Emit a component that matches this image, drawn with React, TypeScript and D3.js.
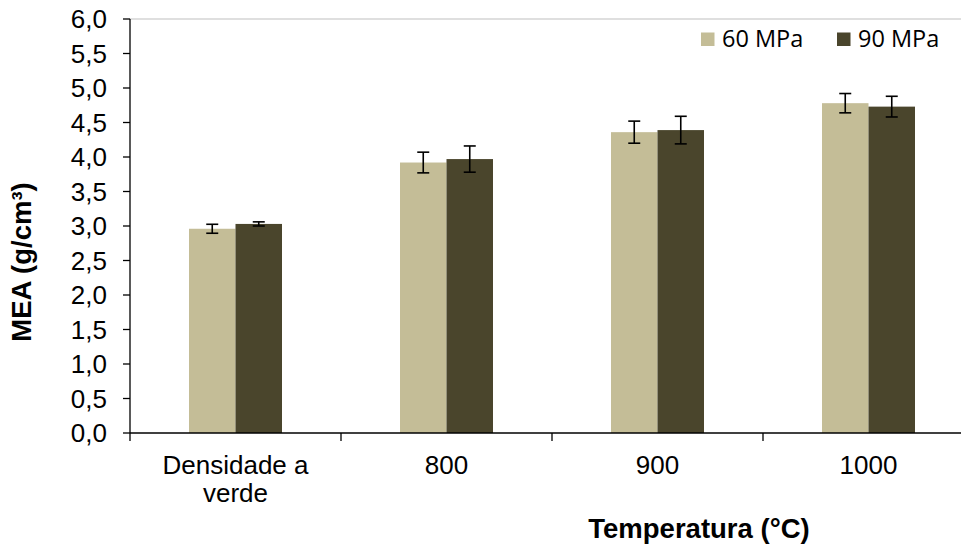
import React from "react";
import * as d3 from "d3";

const categories = ["Densidade a\nverde", "800", "900", "1000"];
const seriesNames = ["60 MPa", "90 MPa"];
const values60 = [2.96, 3.92, 4.36, 4.78];
const values90 = [3.03, 3.97, 4.39, 4.73];
const errors60 = [0.065, 0.15, 0.16, 0.14];
const errors90 = [0.03, 0.19, 0.2, 0.15];
const yTicks = [0, 0.5, 1, 1.5, 2, 2.5, 3, 3.5, 4, 4.5, 5, 5.5, 6];
const colors = ["#C4BD97", "#4A452C"];

export default function App() {
  const W = 961;
  const H = 545;
  const left = 130;
  const top = 19;
  const bottom = 433;
  const bandStep = 211;

  const x = d3
    .scaleBand<string>()
    .domain(categories)
    .range([left, left + bandStep * categories.length])
    .paddingInner(0)
    .paddingOuter(0);
  const y = d3.scaleLinear().domain([0, 6]).range([bottom, top]);

  const barW = 46.5;
  const series = [values60, values90];
  const errs = [errors60, errors90];
  const fmt = (v: number) => v.toFixed(1).replace(".", ",");
  const tickFont: React.CSSProperties = { fontFamily: "'Liberation Sans', Arial, sans-serif", fontSize: "26px" };
  const titleFont: React.CSSProperties = { fontFamily: "'Liberation Sans', Arial, sans-serif", fontSize: "27.5px", fontWeight: "bold" };
  const legendFont: React.CSSProperties = { fontFamily: "'Open Sans', 'Noto Sans', sans-serif", fontSize: "23.5px" };

  return (
    <svg width={W} height={H} style={{ position: "absolute", left: 0, top: 0, background: "#fff" }}>
      {/* top boundary */}
      <line x1={left} x2={W} y1={y(6)} y2={y(6)} stroke="#BFBFBF" strokeWidth={1} />

      {/* bars and error bars */}
      {categories.map((c, i) => {
        const cx = (x(c) as number) + x.bandwidth() / 2;
        return series.map((s, k) => {
          const bx = cx - barW + k * barW;
          const v = s[i];
          const e = errs[k][i];
          const ex = bx + barW / 2;
          return (
            <g key={`${i}-${k}`}>
              <rect x={bx} y={y(v)} width={barW} height={y(0) - y(v)} fill={colors[k]} />
              <line x1={ex} x2={ex} y1={y(v + e)} y2={y(v - e)} stroke="#000" strokeWidth={1.6} />
              <line x1={ex - 6} x2={ex + 6} y1={y(v + e)} y2={y(v + e)} stroke="#000" strokeWidth={1.6} />
              <line x1={ex - 6} x2={ex + 6} y1={y(v - e)} y2={y(v - e)} stroke="#000" strokeWidth={1.6} />
            </g>
          );
        });
      })}

      {/* y axis */}
      <line x1={left} x2={left} y1={y(6)} y2={y(0)} stroke="#000" strokeWidth={1.3} />
      {yTicks.map((t) => (
        <g key={t}>
          <line x1={left - 7} x2={left} y1={y(t)} y2={y(t)} stroke="#000" strokeWidth={1.3} />
          <text x={107} y={y(t)} dy="0.36em" textAnchor="end" style={tickFont} fill="#000">
            {fmt(t)}
          </text>
        </g>
      ))}

      {/* x axis */}
      <line x1={left} x2={W} y1={y(0)} y2={y(0)} stroke="#000" strokeWidth={1.6} />
      {categories.map((c) => (
        <line
          key={c}
          x1={x(c) as number}
          x2={x(c) as number}
          y1={y(0)}
          y2={y(0) + 8}
          stroke="#000"
          strokeWidth={1.3}
        />
      ))}
      {categories.map((c) => {
        const cx = (x(c) as number) + x.bandwidth() / 2;
        const lines = c.split("\n");
        return (
          <text key={c} textAnchor="middle" style={tickFont} fill="#000">
            {lines.map((ln, j) => (
              <tspan key={j} x={cx} y={474 + j * 28}>
                {ln}
              </tspan>
            ))}
          </text>
        );
      })}

      {/* axis titles */}
      <text x={699} y={538} textAnchor="middle" style={titleFont} fill="#000">
        Temperatura (°C)
      </text>
      <text transform={`translate(31, 262) rotate(-90)`} textAnchor="middle" style={titleFont} fill="#000">
        MEA (g/cm³)
      </text>

      {/* legend */}
      {seriesNames.map((n, k) => {
        const lx = [701, 837][k];
        return (
          <g key={n}>
            <rect x={lx} y={32.5} width={13.5} height={13.5} fill={colors[k]} />
            <text x={lx + 21} y={47} style={legendFont} fill="#000">
              {n}
            </text>
          </g>
        );
      })}
    </svg>
  );
}
